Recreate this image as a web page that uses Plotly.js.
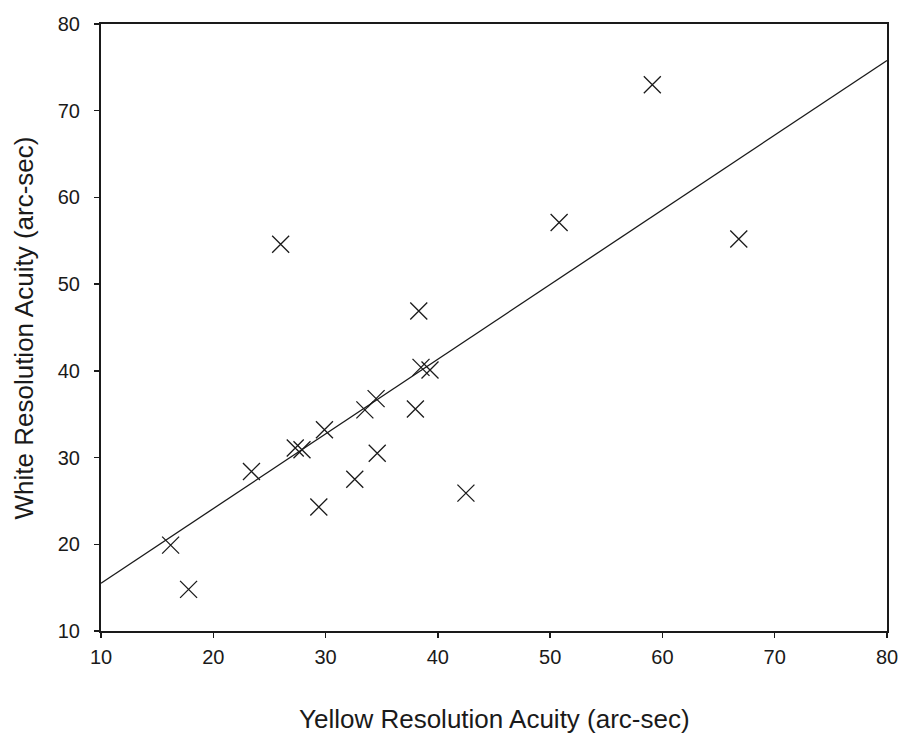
<!DOCTYPE html>
<html>
<head>
<meta charset="utf-8">
<script src="https://cdn.plot.ly/plotly-3.0.1.min.js"></script>
<style>html,body{margin:0;padding:0;background:#fff;}</style>
</head>
<body>
<div id="chart" style="width:901px;height:736px;"></div>
<script>
// Observed data points (yellow vs white resolution acuity, arc-sec)
const yellowAcuity = [16.2, 17.8, 23.4, 26.0, 27.3, 27.9, 29.9, 29.4, 32.6, 33.5, 34.5, 34.6, 38.0, 38.3, 38.5, 39.3, 42.5, 50.8, 59.1, 66.8];
const whiteAcuity  = [19.9, 14.8, 28.4, 54.6, 31.1, 30.9, 33.2, 24.3, 27.5, 35.5, 36.8, 30.5, 35.6, 46.9, 40.4, 40.1, 25.9, 57.1, 73.0, 55.2];
// Fit line end points
const fitX = [10, 80];
const fitY = [15.5, 75.8];
const xTicks = [10, 20, 30, 40, 50, 60, 70, 80];
const yTicks = [10, 20, 30, 40, 50, 60, 70, 80];
const xTitle = 'Yellow Resolution Acuity (arc-sec)';
const yTitle = 'White Resolution Acuity (arc-sec)';

const font = "Liberation Sans, Arial, sans-serif";
const traces = [
  {x: fitX, y: fitY, type: 'scatter', mode: 'lines', line: {color: '#1a1a1a', width: 1.3}, hoverinfo: 'skip', showlegend: false},
  {x: yellowAcuity, y: whiteAcuity, type: 'scatter', mode: 'markers',
   marker: {symbol: 'x-thin', size: 17, line: {color: '#1a1a1a', width: 1.3}, color: '#1a1a1a'}, showlegend: false}
];
const layout = {
  width: 901, height: 736,
  margin: {l: 101, r: 14, t: 24, b: 105},
  paper_bgcolor: '#fff', plot_bgcolor: '#fff',
  font: {family: font, color: '#1a1a1a', size: 20},
  xaxis: {
    range: [10, 80], tickvals: xTicks, ticktext: xTicks.map(String),
    showgrid: false, zeroline: false, showline: true, linecolor: '#1a1a1a', linewidth: 2, mirror: true,
    ticks: 'outside', ticklen: 5, tickcolor: '#1a1a1a', tickwidth: 1.5, ticklabelstandoff: 2,
    tickfont: {family: font, size: 20, color: '#1a1a1a'}
  },
  yaxis: {
    range: [10, 80], tickvals: yTicks, ticktext: yTicks.map(String),
    showgrid: false, zeroline: false, showline: true, linecolor: '#1a1a1a', linewidth: 2, mirror: true,
    ticks: 'outside', ticklen: 5, tickcolor: '#1a1a1a', tickwidth: 1.5, ticklabelstandoff: 10,
    tickfont: {family: font, size: 20, color: '#1a1a1a'}
  },
  annotations: [
    {text: xTitle, xref: 'paper', yref: 'paper', x: 0.5, y: -0.145, xanchor: 'center', yanchor: 'middle',
     showarrow: false, font: {family: font, size: 26, color: '#1a1a1a'}},
    {text: yTitle, xref: 'paper', yref: 'paper', x: -0.098, y: 0.5, xanchor: 'center', yanchor: 'middle',
     textangle: -90, showarrow: false, font: {family: font, size: 26, color: '#1a1a1a'}}
  ]
};
Plotly.newPlot('chart', traces, layout, {displayModeBar: false, staticPlot: true});
</script>
</body>
</html>
